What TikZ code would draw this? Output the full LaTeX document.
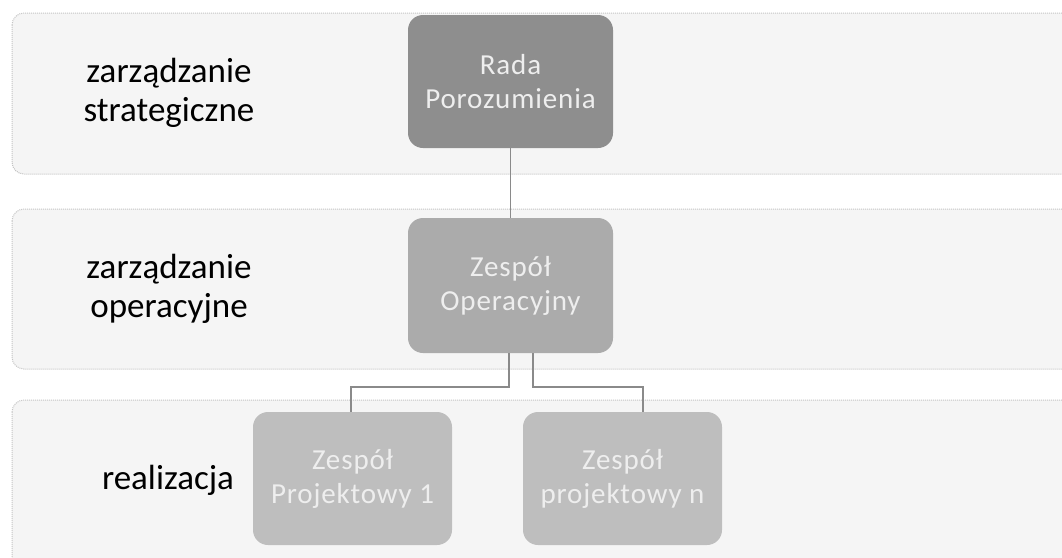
\documentclass[tikz,border=0pt]{standalone}
\usepackage{fontspec}
\setmainfont{Carlito}
\newfontfamily\boxfont[LetterSpace=3]{Carlito}
\definecolor{bandfill}{HTML}{F5F5F5}
\definecolor{banddraw}{HTML}{C4C4C4}
\definecolor{rada}{HTML}{8E8E8E}
\definecolor{oper}{HTML}{ABABAB}
\definecolor{proj}{HTML}{BEBEBE}
\definecolor{boxtext}{HTML}{EEEEEE}
\definecolor{conn}{HTML}{8A8A8A}
\tikzset{
  band/.style={fill=bandfill, draw=banddraw, densely dotted, line width=1pt, rounded corners=12pt},
  lbl/.style={font=\fontsize{35}{39}\selectfont, align=center, text=black},
  orgbox/.style={draw=none, rounded corners=15pt, align=center, text=boxtext,
    font=\boxfont\fontsize{29}{34}\selectfont, inner sep=0pt},
  link/.style={draw=conn, line width=1.8pt}
}
\begin{document}
\begin{tikzpicture}[x=1pt,y=-1pt]
\useasboundingbox (0,0) rectangle (1062,557);
\fill[white] (0,0) rectangle (1062,557);
% bands
\draw[band] (12,13) rectangle (1080,174);
\draw[band] (12,209) rectangle (1080,369);
\draw[band] (12,400) rectangle (1080,580);
% labels
\node[lbl] (l1) at (169,93) {zarządzanie\\strategiczne};
\node[lbl] (l2) at (169,289) {zarządzanie\\operacyjne};
\node[lbl] (l3) at (168,480) {realizacja};
% boxes
\node[orgbox, fill=rada, minimum width=205pt, minimum height=133pt] (rada) at (510.5,81.5) {Rada\\Porozumienia};
\node[orgbox, fill=oper, minimum width=205pt, minimum height=135pt] (oper) at (510.5,285.5) {Zespół\\Operacyjny};
\node[orgbox, fill=proj, minimum width=199pt, minimum height=133pt] (p1) at (352.5,478.5) {Zespół\\Projektowy 1};
\node[orgbox, fill=proj, minimum width=199pt, minimum height=133pt] (pn) at (622.5,478.5) {Zespół\\projektowy n};
% connectors
\coordinate (j1) at (509,387);
\coordinate (j2) at (533,387);
\coordinate (t1) at (351,387);
\coordinate (t2) at (643,387);
\draw[link] (rada.south) -- (oper.north);
\draw[link] (oper.south -| j1) -- (j1) -- (t1) -- (p1.north -| t1);
\draw[link] (oper.south -| j2) -- (j2) -- (t2) -- (pn.north -| t2);
\end{tikzpicture}
\end{document}
